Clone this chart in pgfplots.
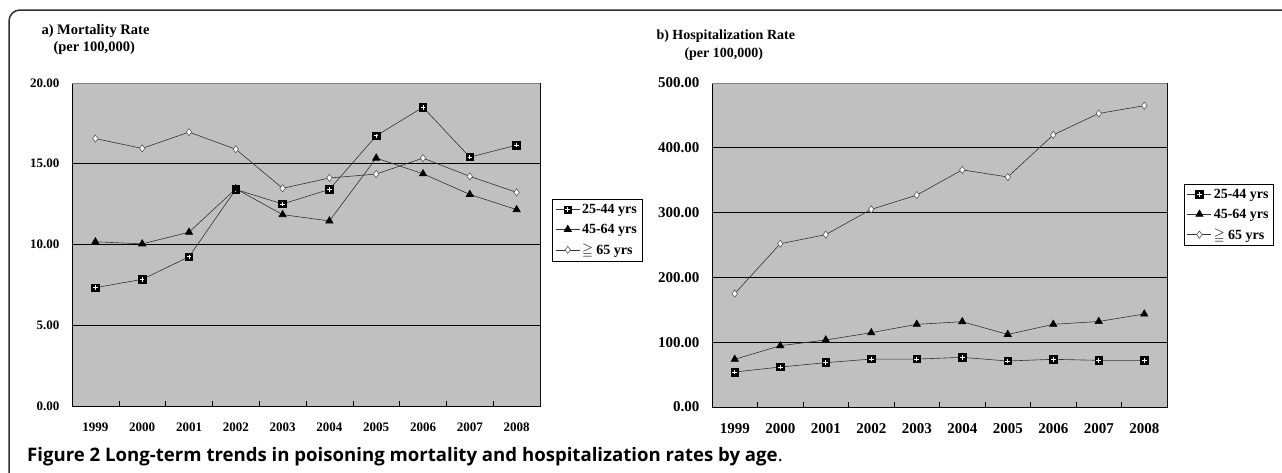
\documentclass[border=0pt]{standalone}
\usepackage{pgfplots}
\pgfplotsset{compat=1.18}
\usepackage{amssymb}
\usepackage{fontspec}
\setmainfont{Liberation Serif}
\newfontfamily\capfont{Open Sans}
\definecolor{plotbg}{HTML}{C0C0C0}
\definecolor{lineg}{HTML}{333333}
\definecolor{frameg}{HTML}{303030}

\pgfdeclareplotmark{sqplus}{%
  \pgfsetfillcolor{black}\pgfsetstrokecolor{black}%
  \pgfpathrectangle{\pgfqpoint{-\pgfplotmarksize}{-\pgfplotmarksize}}{\pgfqpoint{2\pgfplotmarksize}{2\pgfplotmarksize}}%
  \pgfusepath{fill,stroke}%
  \pgfsetstrokecolor{white}\pgfsetlinewidth{0.9pt}%
  \pgfpathmoveto{\pgfqpoint{-0.6\pgfplotmarksize}{0pt}}\pgfpathlineto{\pgfqpoint{0.6\pgfplotmarksize}{0pt}}%
  \pgfpathmoveto{\pgfqpoint{0pt}{-0.6\pgfplotmarksize}}\pgfpathlineto{\pgfqpoint{0pt}{0.6\pgfplotmarksize}}%
  \pgfusepath{stroke}%
  \pgfsetstrokecolor{black}}

\pgfplotsset{
  excel/.style={
    scale only axis, anchor=south west,
    xmin=-0.5, xmax=9.5, ymin=0,
    xtick={-0.5,0.5,1.5,2.5,3.5,4.5,5.5,6.5,7.5,8.5,9.5},
    x tick label as interval,
    xticklabels={1999,2000,2001,2002,2003,2004,2005,2006,2007,2008},
    xtick pos=bottom, ytick pos=left,
    tick align=inside, major tick length=5pt,
    ytick style={draw=none},
    xtick style={black, line width=0.6pt},
    ymajorgrids, grid style={black, line width=0.7pt},
    axis background/.style={fill=plotbg},
    axis line style={black, line width=0.8pt},
    /pgf/number format/assume math mode=true,
    yticklabel style={/pgf/number format/fixed, /pgf/number format/fixed zerofill, /pgf/number format/precision=2},
    yticklabel style={xshift=-9pt},
    xticklabel style={yshift=-13pt},
    every axis plot/.append style={color=lineg, line width=0.6pt},
    legend cell align=left,
    legend image code/.code={\draw[mark repeat=2, mark phase=2, ##1] plot coordinates {(0pt,0pt) (12pt,0pt) (24pt,0pt)};},
    legend style={draw=black, fill=white, line width=0.6pt, inner xsep=3pt, inner ysep=3pt, row sep=5pt},
  },
  s1/.style={mark=sqplus, mark size=3.8pt},
  s2/.style={mark=triangle*, mark size=4.2pt, mark options={fill=black, draw=black}},
  s3/.style={mark=diamond*, mark size=3.6pt, mark options={fill=white, draw=gray!70!black, line width=0.6pt}},
}

\begin{document}
\begin{tikzpicture}
\useasboundingbox (0,0) rectangle (1282pt,-472pt);
\draw[frameg, line width=1.5pt, rounded corners=11pt] (9pt,-480pt) -- (9pt,-10pt) -- (1295pt,-10pt);

% ---------- a) Mortality ----------
\begin{axis}[excel,
  at={(72pt,-406pt)}, width=468pt, height=323pt,
  ymax=20, ytick={0,5,10,15,20},
  tick label style={font=\fontsize{13}{15}\selectfont\bfseries},
  legend style={at={(1.026,0.641)}, anchor=north west, font=\fontsize{14}{16}\selectfont\bfseries},
]
\addplot[s1] coordinates {(0,7.33) (1,7.84) (2,9.24) (3,13.41) (4,12.51) (5,13.41) (6,16.73) (7,18.50) (8,15.41) (9,16.15)};
\addplot[s2] coordinates {(0,10.17) (1,10.04) (2,10.76) (3,13.45) (4,11.85) (5,11.46) (6,15.35) (7,14.38) (8,13.10) (9,12.16)};
\addplot[s3] coordinates {(0,16.56) (1,15.95) (2,16.96) (3,15.90) (4,13.48) (5,14.12) (6,14.36) (7,15.35) (8,14.22) (9,13.23)};
\legend{25-44 yrs, 45-64 yrs, $\geqq$ 65 yrs}
\draw[gray, line width=0.8pt] (rel axis cs:0,1) -- (rel axis cs:1,1) -- (rel axis cs:1,0);
\node[anchor=west, font=\fontsize{13}{15}\selectfont\bfseries] at (rel axis cs:1.02,0.012) {Year};
\end{axis}
\node[anchor=west, font=\fontsize{14.5}{16}\selectfont\bfseries] at (38pt,-31pt) {a) Mortality Rate};
\node[anchor=west, font=\fontsize{14.5}{16}\selectfont\bfseries] at (50pt,-48pt) {(per 100,000)};

% ---------- b) Hospitalization ----------
\begin{axis}[excel,
  at={(712pt,-407pt)}, width=455pt, height=324pt,
  ymax=500, ytick={0,100,200,300,400,500},
  tick label style={font=\fontsize{15}{17}\selectfont\bfseries},
  legend style={at={(1.037,0.689)}, anchor=north west, font=\fontsize{14}{16}\selectfont\bfseries},
]
\addplot[s1] coordinates {(0,54) (1,61.7) (2,68.4) (3,74) (4,74) (5,76.6) (6,71) (7,73.6) (8,72) (9,72)};
\addplot[s2] coordinates {(0,73.6) (1,94.6) (2,103.4) (3,114.7) (4,127.6) (5,131.6) (6,112) (7,127.6) (8,132) (9,143.5)};
\addplot[s3] coordinates {(0,175) (1,252) (2,266) (3,305) (4,327) (5,366) (6,355) (7,420) (8,453) (9,465)};
\legend{25-44 yrs, 45-64 yrs, $\geqq$ 65 yrs}
\draw[gray, line width=0.8pt] (rel axis cs:0,1) -- (rel axis cs:1,1) -- (rel axis cs:1,0);
\node[anchor=west, font=\fontsize{15}{17}\selectfont\bfseries] at (rel axis cs:1.02,0.0) {Year};
\end{axis}
\node[anchor=west, font=\fontsize{14}{16}\selectfont\bfseries] at (653pt,-36pt) {b) Hospitalization Rate};
\node[anchor=west, font=\fontsize{14}{16}\selectfont\bfseries] at (681pt,-54pt) {(per 100,000)};

% caption
\node[anchor=base west, inner sep=0pt] at (27pt,-461pt) {\capfont\fontsize{18.6}{22}\selectfont\textbf{Figure 2 Long-term trends in poisoning mortality and hospitalization rates by age}.};
\end{tikzpicture}
\end{document}
